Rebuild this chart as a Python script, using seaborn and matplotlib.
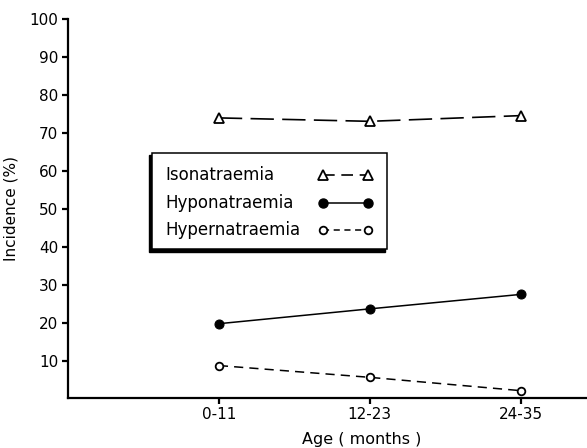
import matplotlib
matplotlib.use("Agg")
import matplotlib.pyplot as plt
import seaborn as sns
import pandas as pd
from matplotlib.lines import Line2D
from matplotlib.patches import Rectangle

# ---- data ----
age_groups = ["0-11", "12-23", "24-35"]
isonatraemia = [74.0, 73.1, 74.6]
hyponatraemia = [19.9, 23.8, 27.6]
hypernatraemia = [8.9, 5.8, 2.3]
series_names = ["Isonatraemia", "Hyponatraemia", "Hypernatraemia"]
y_ticks = [10, 20, 30, 40, 50, 60, 70, 80, 90, 100]

sns.set_theme(style="ticks")
plt.rcParams["font.family"] = ["DejaVu Sans"]

fig = plt.figure(figsize=(5.87, 4.48), dpi=100)
ax = fig.add_axes([68 / 587, 1 - 397.5 / 448, (587 - 68) / 587, (397.5 - 19) / 448])

df = pd.DataFrame({"age": age_groups, "iso": isonatraemia,
                   "hypo": hyponatraemia, "hyper": hypernatraemia})

styles = {
    "iso": dict(marker="^", markersize=7, markerfacecolor="white",
                markeredgecolor="black", markeredgewidth=1.3,
                dashes=(14, 5), linewidth=1.2),
    "hypo": dict(marker="o", markersize=6.5, markerfacecolor="black",
                 markeredgecolor="black", linewidth=1.1),
    "hyper": dict(marker="o", markersize=5.5, markerfacecolor="white",
                  markeredgecolor="black", markeredgewidth=1.3,
                  dashes=(6, 4), linewidth=1.1),
}
for col in ["iso", "hypo", "hyper"]:
    st = dict(styles[col])
    dashes = st.pop("dashes", None)
    line_ax = sns.lineplot(data=df, x="age", y=col, ax=ax, color="black",
                           sort=False, **st)
    if dashes is not None:
        line_ax.lines[-1].set_dashes(dashes)

ax.set_xlim(-1.0, 2.44)
ax.set_ylim(0.5, 100)
ax.set_yticks(y_ticks)
ax.set_yticklabels([str(t) for t in y_ticks])
ax.set_xticks(range(len(age_groups)))
ax.set_xticklabels(age_groups)

for s in ["top", "right"]:
    ax.spines[s].set_visible(False)
for s in ["left", "bottom"]:
    ax.spines[s].set_linewidth(1.6)
    ax.spines[s].set_color("black")
ax.tick_params(axis="both", direction="out", length=4, width=1.6,
               colors="black", labelsize=11, pad=3)
ax.grid(False)

ax.set_ylabel("Incidence (%)", fontsize=11, color="black")
ax.yaxis.set_label_coords(-0.095, 0.5)
ax.set_xlabel("Age ( months )", fontsize=11.5, color="black")
ax.xaxis.set_label_coords((362 - 68) / 519, -0.09)

# ---- legend box (handle on the right of each label) ----
x0, x1 = 0.162, 0.615
yb, yt = 0.392, 0.646
shadow = Rectangle((x0 - 0.005, yb - 0.0066), x1 - x0, yt - yb,
                   transform=ax.transAxes, facecolor="black",
                   edgecolor="black", lw=1, zorder=4)
box = Rectangle((x0, yb), x1 - x0, yt - yb, transform=ax.transAxes,
                facecolor="white", edgecolor="black", lw=1.1, zorder=5)
ax.add_patch(shadow)
ax.add_patch(box)

row_y = [0.588, 0.514, 0.442]
hx0, hx1 = 0.491, 0.578
for name, col, yy in zip(series_names, ["iso", "hypo", "hyper"], row_y):
    ax.text(0.187, yy, name, transform=ax.transAxes, fontsize=12,
            va="center", ha="left", color="black", zorder=6)
    st = dict(styles[col])
    dashes = st.pop("dashes", None)
    if col == "iso":
        dashes = (7, 4)
    if col == "hyper":
        dashes = (4, 3)
    ln = Line2D([hx0, hx1], [yy, yy], transform=ax.transAxes, color="black",
                zorder=6, **st)
    if dashes is not None:
        ln.set_dashes(dashes)
    ax.add_line(ln)

fig.savefig("out.png", dpi=100)
